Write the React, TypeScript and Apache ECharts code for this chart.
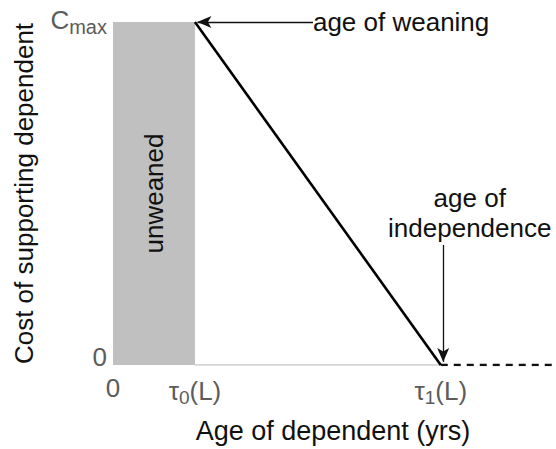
import React, { useEffect, useRef } from "react";
import * as echarts from "echarts";

// Model values (age in arbitrary units, cost normalised to Cmax = 1)
const TAU0 = 1; // age of weaning
const TAU1 = 4; // age of independence
const X_MAX = 5.37;
const C_MAX = 1;

const xTickValues = [0, TAU0, TAU1];
const xTickLabels = ["0", "{t|τ}{s|0}{t|(L)}", "{t|τ}{s|1}{t|(L)}"];
const yTickValues = [0, C_MAX];
const yTickLabels = ["{z|0}", "{c|C}{s|max}"];

const costLine = [
  [TAU0, C_MAX],
  [TAU1, 0],
];
const baseLine = [
  [TAU0, 0],
  [TAU1, 0],
];
const afterLine = [
  [TAU1, 0],
  [X_MAX, 0],
];
const unweanedArea = [
  [0, 0],
  [TAU0, C_MAX],
];

const weaningArrow = [
  [2.44, 1],
  [1.03, 1],
];
const independenceArrow = [
  [4.03, 0.35],
  [4.03, 0.009],
];
const weaningLabelAt = [2.44, 1];
const independenceLabelAt = [4.354, 0.443];

const FONT = "'Liberation Sans', Arial, Helvetica, sans-serif";

export default function App() {
  const ref = useRef<HTMLDivElement>(null);

  useEffect(() => {
    if (!ref.current) return;
    const chart = echarts.init(ref.current, null, { renderer: "svg" });
    chart.setOption({
      animation: false,
      textStyle: { fontFamily: FONT },
      grid: {
        left: 113,
        right: 3,
        top: 22,
        bottom: 84,
        containLabel: false,
        outerBoundsMode: "none",
      },
      xAxis: {
        type: "value",
        min: 0,
        max: X_MAX,
        name: "Age of dependent (yrs)",
        nameLocation: "middle",
        nameGap: 52,
        nameTextStyle: { fontSize: 27, color: "#111", fontFamily: FONT },
        axisLine: { show: false },
        axisTick: { show: false },
        splitLine: { show: false },
        axisLabel: {
          customValues: xTickValues,
          fontSize: 26,
          color: "#5c5c5c",
          fontFamily: FONT,
          margin: 10,
          formatter: (v: number) => xTickLabels[xTickValues.indexOf(v)] ?? "",
          rich: {
            t: { fontSize: 26, color: "#5c5c5c", fontFamily: FONT },
            s: {
              fontSize: 19,
              color: "#5c5c5c",
              fontFamily: FONT,
              padding: [13, 0, 0, 0],
              verticalAlign: "bottom",
            },
          },
        },
      },
      yAxis: {
        type: "value",
        min: 0,
        max: C_MAX,
        name: "Cost of supporting dependent",
        nameLocation: "middle",
        nameGap: 76,
        nameTextStyle: { fontSize: 26, color: "#111", fontFamily: FONT },
        axisLine: { show: false },
        axisTick: { show: false },
        splitLine: { show: false },
        axisLabel: {
          customValues: yTickValues,
          fontSize: 26,
          color: "#5c5c5c",
          fontFamily: FONT,
          margin: 6,
          formatter: (v: number) => yTickLabels[yTickValues.indexOf(v)] ?? "",
          rich: {
            z: {
              fontSize: 26,
              color: "#5c5c5c",
              fontFamily: FONT,
              padding: [0, 0, 16, 0],
            },
            c: {
              fontSize: 26,
              color: "#5c5c5c",
              fontFamily: FONT,
              verticalAlign: "top",
              padding: [0, 0, 0, 0],
            },
            s: {
              fontSize: 20,
              color: "#5c5c5c",
              fontFamily: FONT,
              padding: [10, 0, 0, 0],
              verticalAlign: "bottom",
            },
          },
        },
      },
      series: [
        {
          type: "line",
          data: baseLine,
          symbol: "none",
          lineStyle: { color: "#c8c8c8", width: 1.5 },
          silent: true,
          markArea: {
            silent: true,
            itemStyle: { color: "#c0c0c0", opacity: 1 },
            label: {
              show: true,
              position: "inside",
              rotate: 90,
              formatter: "unweaned",
              fontSize: 26,
              color: "#111",
              fontFamily: FONT,
            },
            data: [
              [
                { coord: unweanedArea[0] },
                { coord: unweanedArea[1] },
              ],
            ],
          },
        },
        {
          type: "line",
          data: afterLine,
          symbol: "none",
          lineStyle: { color: "#111", width: 2.5, type: [7, 6] },
          silent: true,
        },
        {
          type: "line",
          data: costLine,
          symbol: "none",
          lineStyle: { color: "#000", width: 2.6 },
          silent: true,
          z: 5,
        },
        {
          type: "line",
          data: [],
          symbol: "none",
          silent: true,
          z: 6,
          markLine: {
            silent: true,
            symbol: ["none", "arrow"],
            symbolSize: [9, 14],
            lineStyle: { color: "#111", width: 1.3, type: "solid" },
            label: { show: false },
            data: [
              [{ coord: weaningArrow[0] }, { coord: weaningArrow[1] }],
              [{ coord: independenceArrow[0] }, { coord: independenceArrow[1] }],
            ],
          },
          markPoint: {
            silent: true,
            symbol: "circle",
            symbolSize: 0,
            data: [
              {
                coord: weaningLabelAt,
                label: {
                  show: true,
                  position: "right",
                  distance: 0,
                  formatter: "age of weaning",
                  fontSize: 26,
                  color: "#111",
                  fontFamily: FONT,
                },
              },
              {
                coord: independenceLabelAt,
                label: {
                  show: true,
                  position: "inside",
                  align: "center",
                  verticalAlign: "middle",
                  formatter: "age of\nindependence",
                  fontSize: 26,
                  lineHeight: 30,
                  color: "#111",
                  fontFamily: FONT,
                },
              },
            ],
          },
        },
      ],
    });
    return () => chart.dispose();
  }, []);

  return (
    <div
      ref={ref}
      style={{ position: "fixed", left: 0, top: 0, width: 556, height: 449, background: "#fff" }}
    />
  );
}
